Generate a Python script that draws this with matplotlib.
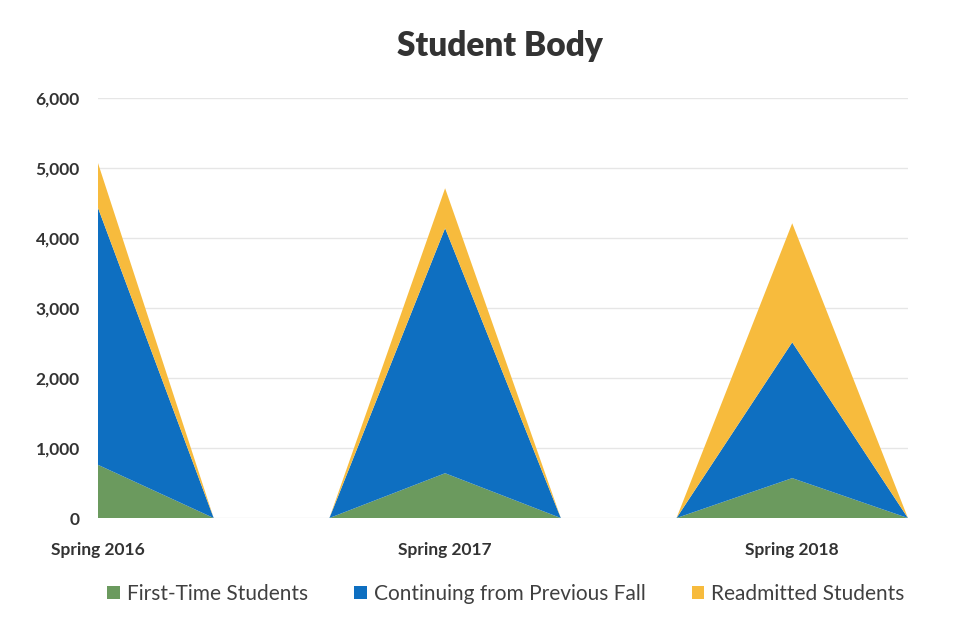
import matplotlib
matplotlib.use("Agg")
import matplotlib.pyplot as plt
from matplotlib.patches import Patch
import numpy as np

categories = ["Spring 2016", "", "", "Spring 2017", "", "", "Spring 2018", ""]
first_time = [760, 0, 0, 640, 0, 0, 570, 0]
continuing = [3670, 0, 0, 3500, 0, 0, 1940, 0]
readmitted = [640, 0, 0, 570, 0, 0, 1700, 0]
series_names = ["First-Time Students", "Continuing from Previous Fall", "Readmitted Students"]
colors = ["#6b9a5e", "#0e6fc1", "#f7bb3d"]

plt.rcParams['font.family'] = ['Lato', 'DejaVu Sans']

fig = plt.figure(figsize=(9.77, 6.27), dpi=100)
ax = fig.add_axes([0.1003, 0.1738, 0.829, 0.67])

x = np.arange(len(categories))
ax.stackplot(x, first_time, continuing, readmitted, colors=colors, linewidth=0)

ax.set_xlim(0, len(categories) - 1)
ax.set_ylim(0, 6000)
ax.set_yticks(np.arange(0, 6001, 1000))
ax.set_yticklabels([f"{v:,}" for v in range(0, 6001, 1000)])
tick_pos = [i for i, c in enumerate(categories) if c]
ax.set_xticks(tick_pos)
ax.set_xticklabels([categories[i] for i in tick_pos])
ax.tick_params(axis='both', length=0, labelsize=12.5, colors="#333333")
ax.tick_params(axis='x', pad=17)
ax.tick_params(axis='y', pad=13)
for lab in ax.get_xticklabels() + ax.get_yticklabels():
    lab.set_fontweight('bold')
ax.grid(axis='y', color="#e6e6e6", linewidth=1)
ax.set_axisbelow(True)
for s in ax.spines.values():
    s.set_visible(False)

fig.text(0.512, 0.926, "Student Body", ha='center', va='center', fontsize=24,
         fontweight='heavy', color="#333333")

handles = [Patch(facecolor=c, edgecolor='none') for c in colors]
fig.legend(handles, series_names, loc='center', bbox_to_anchor=(0.518, 0.053), ncol=3,
           frameon=False, fontsize=15, handlelength=0.6, handleheight=0.6,
           handletextpad=0.35, columnspacing=2.2, labelcolor="#404040")

fig.savefig("out.png", dpi=100, facecolor="white")
